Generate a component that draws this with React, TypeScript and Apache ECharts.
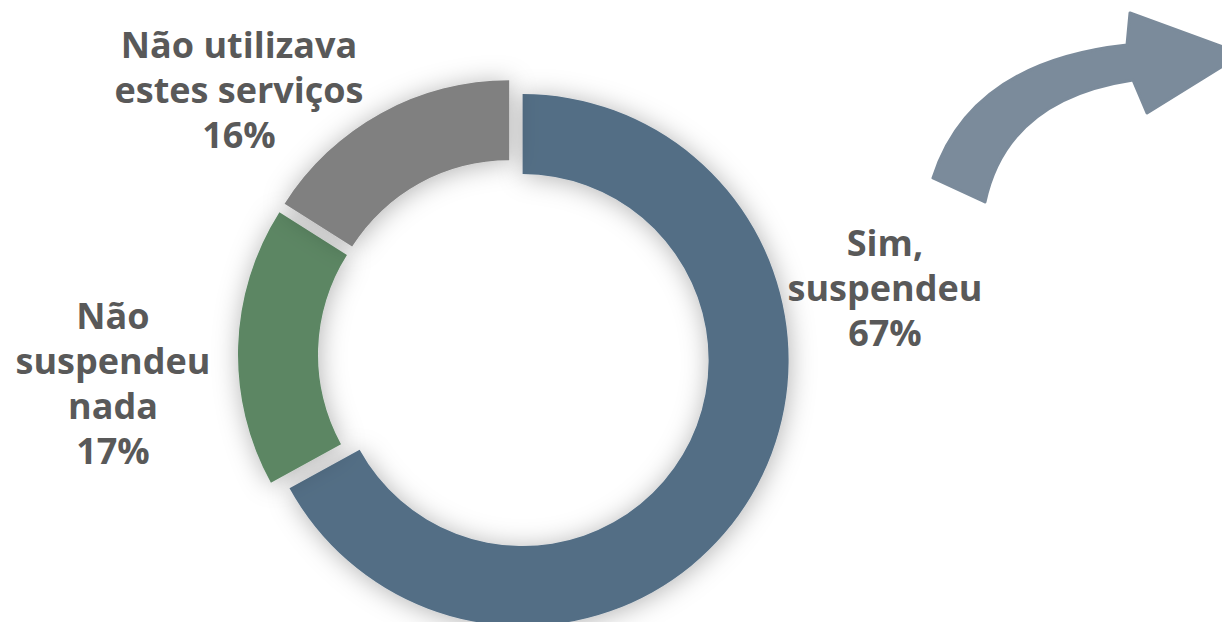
import React, { useEffect, useRef } from "react";
import * as echarts from "echarts";

const categories = ["Sim,\nsuspendeu", "Não\nsuspendeu\nnada", "Não utilizava\nestes serviços"];
const values = [67, 17, 16];
const colors = ["#536E85", "#5B8663", "#808080"];
const labelPositions = [
  [885, 287],
  [113, 383],
  [239, 89],
];

const arrowPath =
  "M933,178 Q970,62 1127,45 L1130,13 L1242,54 L1147,113 L1133,80 Q1007,99 985,202 Z";
echarts.graphic.registerShape("curvedArrow", (echarts.graphic as any).extendPath(arrowPath, {}));

export default function App() {
  const ref = useRef<HTMLDivElement>(null);
  useEffect(() => {
    document.body.style.margin = "0";
    const chart = echarts.init(ref.current!, null, { renderer: "svg" });
    const total = values.reduce((a, b) => a + b, 0);
    chart.setOption({
      animation: false,
      backgroundColor: "#ffffff",
      graphic: [
        {
          type: "curvedArrow",
          x: 0,
          y: 0,
          silent: true,
          style: { fill: "#7B8B9B", stroke: "#7B8B9B", lineWidth: 3, lineJoin: "round" },
        },
        ...categories.map((name, i) => ({
          type: "text",
          x: labelPositions[i][0],
          y: labelPositions[i][1],
          silent: true,
          z: 10,
          style: {
            text: `${name}\n${Math.round((values[i] / total) * 100)}%`,
            fill: "#595959",
            fontFamily: "Open Sans",
            fontWeight: "bold",
            fontSize: 36,
            lineHeight: 45,
            textAlign: "center",
            textVerticalAlign: "middle",
            align: "center",
            verticalAlign: "middle",
          },
        })),
      ],
      series: [
        {
          type: "pie",
          center: [514, 355],
          radius: [186, 266],
          startAngle: 90,
          clockwise: true,
          selectedMode: "multiple",
          selectedOffset: 10,
          emphasis: { disabled: true },
          itemStyle: {
            shadowBlur: 26,
            shadowColor: "rgba(0,0,0,0.3)",
            shadowOffsetX: 1,
            shadowOffsetY: 2,
          },
          label: { show: false },
          labelLine: { show: false },
          data: categories.map((name, i) => ({
            name,
            value: values[i],
            selected: true,
            itemStyle: { color: colors[i] },
          })),
        },
      ],
    });
    return () => chart.dispose();
  }, []);
  return (
    <div
      ref={ref}
      style={{ position: "absolute", left: 0, top: 0, width: 1222, height: 622 }}
    />
  );
}
